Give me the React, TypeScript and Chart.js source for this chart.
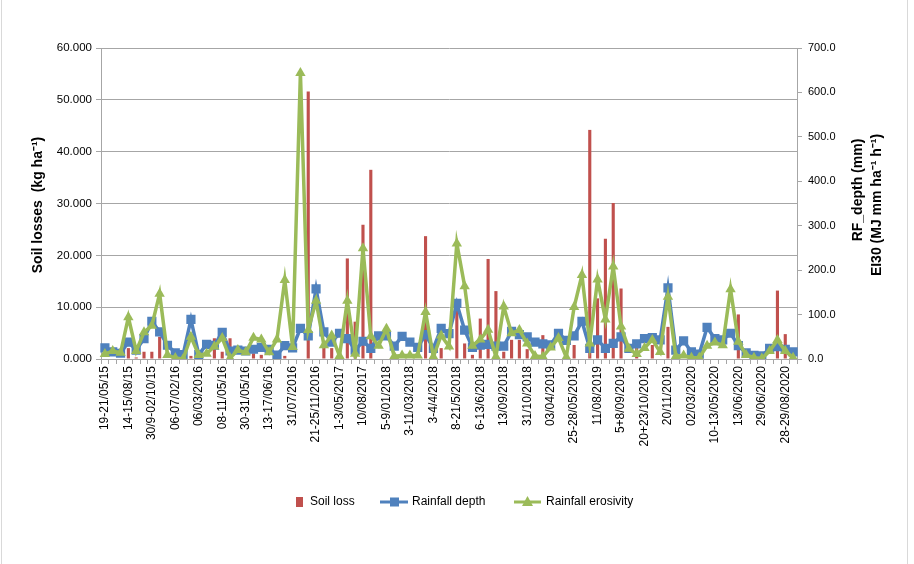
import { useEffect, useRef } from 'react';
import { Chart, registerables } from 'chart.js';

Chart.register(...registerables);

// Event labels shown on the category axis (one every third event)
const eventLabels = [
  '19-21/05/15', '14-15/08/15', '30/9-02/10/15', '06-07/02/16', '06/03/2016',
  '08-11/05/16', '30-31/05/16', '13-17/06/16', '31/07/2016', '21-25/11/2016',
  '1-3/05/2017', '10/08/2017', '5-9/01/2018', '3-11/03/2018', '3-4/4/2018',
  '8-21/5/2018', '6-13/6/2018', '13/09/2018', '31/10/2018', '03/04/2019',
  '25-28/05/2019', '11/08/2019', '5+8/09/2019', '20+23/10/2019', '20/11/2019',
  '02/03/2020', '10-13/05/2020', '13/06/2020', '29/06/2020', '28-29/08/2020',
];
const labelEvery = 3;

// Soil losses per event (kg ha-1), left axis
const soilLoss = [
  0, 0, 0, 2.1, 0.3, 1.4, 1.4, 4.3, 0, 0,
  0, 0.6, 0, 0, 4.0, 1.4, 4.0, 0, 0, 1.1,
  0.8, 0, 0, 0.6, 0, 0, 51.6, 0, 3.5, 2.1,
  0, 19.4, 7.2, 25.9, 36.5, 0, 0, 0, 0, 0,
  0, 23.7, 0, 2.1, 0, 9.5, 3.0, 0.8, 7.8, 19.3,
  13.1, 1.4, 3.7, 3.7, 1.9, 0, 4.6, 0, 0, 0,
  2.7, 0, 44.2, 11.7, 23.2, 30.1, 13.6, 0, 2.7, 0,
  2.7, 0, 6.2, 0, 0, 0, 0, 0, 0, 0,
  0, 8.6, 0, 0, 0, 0, 13.2, 4.8, 0,
];

// Rainfall depth per event (mm), right axis
const rainfallDepth = [
  25, 16, 13, 38, 20, 46, 85, 61, 31, 14,
  10, 89, 10, 33, 31, 60, 18, 20, 18, 22,
  26, 22, 9, 30, 25, 69, 52, 158, 61, 38,
  58, 46, 20, 40, 24, 52, 52, 29, 51, 38,
  26, 55, 24, 69, 57, 125, 65, 26, 31, 33,
  29, 29, 62, 55, 50, 38, 34, 32, 58, 42,
  52, 85, 24, 43, 24, 35, 50, 24, 34, 46,
  48, 43, 160, 20, 41, 16, 11, 71, 46, 43,
  58, 30, 14, 8, 7, 24, 28, 22, 16,
];

// Rainfall erosivity EI30 per event (MJ mm ha-1 h-1), right axis
const rainfallErosivity = [
  11, 18, 14, 94, 18, 60, 75, 147, 9, 2,
  0, 50, 9, 12, 28, 47, 2, 20, 15, 48,
  44, 15, 44, 178, 27, 644, 65, 131, 31, 53,
  7, 131, 12, 249, 51, 30, 68, 6, 8, 8,
  8, 106, 5, 53, 28, 260, 164, 30, 44, 66,
  5, 118, 58, 65, 35, 7, 5, 26, 47, 4,
  117, 189, 35, 179, 89, 208, 73, 23, 11, 25,
  43, 16, 140, 6, 8, 3, 3, 30, 37, 31,
  157, 39, 9, 3, 1, 18, 43, 18, 3,
];

const leftTitle = 'Soil losses  (kg ha\u207B\u00B9)';
const rightTitleLines = ['RF_depth (mm)', 'EI30 (MJ mm ha\u207B\u00B9 h\u207B\u00B9)'];

const RED = '#C0504D';
const BLUE = '#4F81BD';
const GREEN = '#9BBB59';
const GRID = '#a6a6a6';
const FONT = '"Liberation Sans", Arial, sans-serif';

const categories = soilLoss.map((_, i) =>
  i % labelEvery === 0 ? eventLabels[i / labelEvery] : ''
);

// Axis titles, legend and frame are painted on top of the chart
const decorations = {
  id: 'decorations',
  afterDraw(chart: any) {
    const ctx = chart.ctx as CanvasRenderingContext2D;
    ctx.save();

    // frame
    ctx.strokeStyle = '#d9d9d9';
    ctx.lineWidth = 1;
    ctx.beginPath();
    ctx.moveTo(1.5, 0);
    ctx.lineTo(1.5, 564);
    ctx.moveTo(907.5, 0);
    ctx.lineTo(907.5, 564);
    ctx.stroke();

    // axis titles
    ctx.fillStyle = '#000';
    ctx.textAlign = 'center';
    ctx.textBaseline = 'middle';
    ctx.font = `bold 14px ${FONT}`;
    ctx.save();
    ctx.translate(38, 205);
    ctx.rotate(-Math.PI / 2);
    ctx.fillText(leftTitle, 0, 0);
    ctx.restore();

    ctx.font = `bold 14px ${FONT}`;
    const rightCenters = [[858, 190], [877, 205]];
    rightTitleLines.forEach((t, k) => {
      ctx.save();
      ctx.translate(rightCenters[k][0], rightCenters[k][1]);
      ctx.rotate(-Math.PI / 2);
      ctx.fillText(t, 0, 0);
      ctx.restore();
    });

    // legend
    const ly = 502;
    const ds = chart.data.datasets;
    ctx.font = `12px ${FONT}`;
    ctx.textAlign = 'left';
    ctx.fillStyle = RED;
    ctx.fillRect(296, ly - 5, 7, 10);
    ctx.fillStyle = '#000';
    ctx.fillText(ds[2].label, 310, ly);

    ctx.strokeStyle = BLUE;
    ctx.lineWidth = 3;
    ctx.beginPath();
    ctx.moveTo(380, ly);
    ctx.lineTo(408, ly);
    ctx.stroke();
    ctx.fillStyle = BLUE;
    ctx.fillRect(390, ly - 4.5, 9, 9);
    ctx.fillStyle = '#000';
    ctx.fillText(ds[1].label, 412, ly);

    ctx.strokeStyle = GREEN;
    ctx.beginPath();
    ctx.moveTo(514, ly);
    ctx.lineTo(541, ly);
    ctx.stroke();
    ctx.fillStyle = GREEN;
    ctx.beginPath();
    ctx.moveTo(527.5, ly - 6);
    ctx.lineTo(533, ly + 4);
    ctx.lineTo(522, ly + 4);
    ctx.closePath();
    ctx.fill();
    ctx.fillStyle = '#000';
    ctx.fillText(ds[0].label, 546, ly);

    ctx.restore();
  },
};

export default function App() {
  const canvasRef = useRef<HTMLCanvasElement>(null);

  useEffect(() => {
    const chart = new Chart(canvasRef.current as HTMLCanvasElement, {
      type: 'bar',
      data: {
        labels: categories,
        datasets: [
          {
            type: 'line',
            label: 'Rainfall erosivity',
            data: rainfallErosivity,
            yAxisID: 'y1',
            borderColor: GREEN,
            backgroundColor: GREEN,
            borderWidth: 3.5,
            pointStyle: 'triangle',
            pointRadius: 6,
            pointBorderWidth: 0,
            tension: 0,
            order: 0,
          },
          {
            type: 'line',
            label: 'Rainfall depth',
            data: rainfallDepth,
            yAxisID: 'y1',
            borderColor: BLUE,
            backgroundColor: BLUE,
            borderWidth: 3.5,
            pointStyle: 'rect',
            pointRadius: 6.5,
            pointBorderWidth: 0,
            tension: 0,
            order: 1,
          },
          {
            type: 'bar',
            label: 'Soil loss',
            data: soilLoss,
            yAxisID: 'y',
            backgroundColor: RED,
            barPercentage: 0.4,
            categoryPercentage: 1,
            order: 2,
          },
        ],
      },
      options: {
        responsive: false,
        animation: false,
        layout: { padding: { top: 48, left: 0, right: 0, bottom: 0 } },
        plugins: {
          legend: { display: false },
          tooltip: { enabled: false },
        },
        scales: {
          x: {
            afterFit: (s: any) => { s.height = 205; },
            grid: { display: true, drawOnChartArea: false, tickLength: 5, color: GRID },
            border: { color: GRID },
            ticks: {
              autoSkip: false,
              minRotation: 90,
              maxRotation: 90,
              padding: 2,
              color: '#000',
              font: { family: FONT, size: 12 },
            },
          },
          y: {
            position: 'left',
            min: 0,
            max: 60,
            afterFit: (s: any) => { s.width = 101; },
            grid: { color: GRID, tickLength: 5 },
            border: { color: GRID },
            ticks: {
              stepSize: 10,
              padding: 4,
              color: '#000',
              font: { family: FONT, size: 11.5 },
              callback: (v: any) => Number(v).toFixed(3),
            },
          },
          y1: {
            position: 'right',
            min: 0,
            max: 700,
            afterFit: (s: any) => { s.width = 117; },
            grid: { drawOnChartArea: false, tickLength: 5, color: GRID },
            border: { color: GRID },
            ticks: {
              stepSize: 100,
              padding: 6,
              color: '#000',
              font: { family: FONT, size: 11 },
              callback: (v: any) => Number(v).toFixed(1),
            },
          },
        },
      },
      plugins: [decorations],
    } as any);
    return () => chart.destroy();
  }, []);

  return (
    <div style={{ position: 'fixed', left: 0, top: 0, width: 914, height: 564, background: '#fff' }}>
      <canvas ref={canvasRef} width={914} height={564} style={{ width: 914, height: 564, display: 'block' }} />
    </div>
  );
}
